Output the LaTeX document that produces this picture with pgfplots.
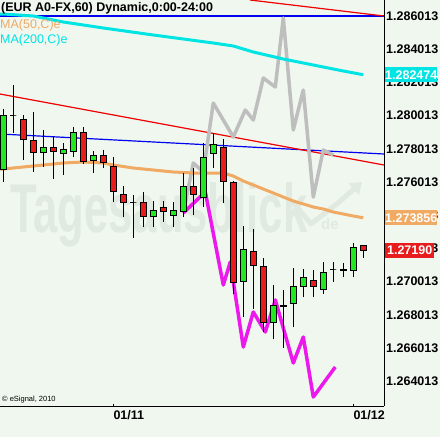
\documentclass[border=0pt]{standalone}
\usepackage{fontspec}
\setmainfont{Liberation Sans}
\usepackage{graphicx}
\usepackage{pgfplots}
\pgfplotsset{compat=1.18}
\usepackage{pgfplotstable}
\usetikzlibrary{arrows.meta}
\pgfdeclarelayer{background}
\pgfsetlayers{background,main}
\definecolor{bg}{RGB}{239,247,239}
\definecolor{wm}{RGB}{224,234,224}
\definecolor{cgreen}{RGB}{34,232,34}
\definecolor{cred}{RGB}{232,28,28}
\definecolor{ccyan}{RGB}{0,228,228}
\definecolor{corange}{RGB}{240,170,100}
\definecolor{cgray}{RGB}{190,190,190}
\definecolor{cmag}{RGB}{236,24,236}
\definecolor{cblue}{RGB}{0,0,240}
\definecolor{clred}{RGB}{240,0,0}
\newcommand\lab{\fontsize{12.5pt}{15pt}\selectfont}

\pgfplotstableread{
i o h l c
0 1.276796 1.280411 1.276013 1.280049
1 1.279989 1.281856 1.278965 1.279989
2 1.279748 1.280049 1.277338 1.278603
3 1.278543 1.280230 1.276615 1.277820
4 1.277820 1.279146 1.276917 1.278121
5 1.278121 1.278724 1.276194 1.277880
6 1.277760 1.278362 1.276435 1.277941
7 1.277880 1.279326 1.277519 1.279025
8 1.279025 1.279326 1.277097 1.277278
9 1.277338 1.277880 1.276555 1.277639
10 1.277639 1.277941 1.276856 1.277158
11 1.276917 1.277519 1.274808 1.275411
12 1.275230 1.275772 1.273905 1.274748
13 1.274808 1.275230 1.272639 1.274808
14 1.274748 1.275411 1.273302 1.273905
15 1.273905 1.274868 1.273302 1.274326
16 1.274447 1.274868 1.273603 1.274266
17 1.274025 1.274808 1.273302 1.274326
18 1.274206 1.276555 1.273905 1.275772
19 1.275712 1.276856 1.274025 1.275290
20 1.275109 1.278362 1.274507 1.277519
21 1.277700 1.278965 1.276856 1.278242
22 1.278121 1.278603 1.274748 1.276073
23 1.275953 1.276073 1.269266 1.269929
24 1.269989 1.273362 1.267880 1.271917
25 1.271856 1.273182 1.268362 1.270953
26 1.270893 1.271435 1.266977 1.267579
27 1.267579 1.269808 1.266555 1.268603
28 1.268483 1.269507 1.266013 1.268603
29 1.268664 1.270832 1.267278 1.269688
30 1.269688 1.270772 1.269085 1.270290
31 1.270109 1.270712 1.269085 1.269688
32 1.269567 1.271194 1.269266 1.270591
33 1.270712 1.271194 1.269989 1.270712
34 1.270652 1.271133 1.270290 1.270772
35 1.270652 1.272338 1.270290 1.272097
36 1.272158 1.272218 1.271435 1.271900
}\candles

\begin{document}
\begin{tikzpicture}[x=1pt,y=1pt]
\begin{axis}[
  scale only axis, width=384pt, height=406pt,
  xmin=-0.33, xmax=38.07, ymin=1.262519, ymax=1.286977,
  axis x line*=bottom, axis y line*=right,
  axis line style={black, line width=1pt},
  xtick={11,35}, xticklabels={01/11,01/12},
  ytick={1.264013,1.266013,1.268013,1.270013,1.272013,1.274013,1.276013,1.278013,1.280013,1.282013,1.284013,1.286013},
  yticklabels={1.264013,1.266013,1.268013,1.270013,1.272013,1.274013,1.276013,1.278013,1.280013,1.282013,1.284013,1.286013},
  tick align=inside, major tick length=2pt,
  xtick style={black, line width=0.8pt},
  ytick style={draw=none},
  xticklabel style={anchor=north west, inner sep=0pt, font=\lab\bfseries},
  xticklabel shift=4pt,
  yticklabel style={anchor=west, inner sep=0pt, font=\lab\bfseries},
  yticklabel shift=2pt,
]
% trend lines
\addplot[cblue, line width=1.2pt] coordinates {(-0.33,1.286013) (38.07,1.286013)};
\addplot[cblue, line width=1.2pt] coordinates {(-0.33,1.278905) (38.07,1.277700)};
\addplot[clred, line width=1.2pt] coordinates {(-0.33,1.281314) (38.07,1.277037)};
\addplot[clred, line width=1.2pt] coordinates {(24.67,1.286977) (38.07,1.286013)};
% gray projection
\addplot[cgray, line width=3.5pt, line join=round] coordinates {
(18,1.274146) (19,1.277158) (20,1.276615) (21,1.280772) (23,1.278724) (24.2,1.280350) (25,1.279748) (26,1.282278) (27.2,1.281736) (28,1.285893) (29,1.279146) (30,1.281555) (31,1.275109) (32,1.277941) (33,1.277639)};
% magenta projection
\addplot[cmag, line width=3.5pt, line join=round] coordinates {
(18,1.274146) (20.2,1.275411) (22,1.269808) (22.7,1.271194) (24,1.266073) (25,1.268182) (26.2,1.266977) (27.2,1.268905) (29,1.265109) (30,1.266676) (31,1.263061) (33.2,1.264868)};
% MA 200
\addplot[ccyan, line width=3pt] coordinates {
(-0.33,1.286133) (0,1.286133) (3,1.286013) (6,1.285652) (10,1.285290) (15,1.284868) (18,1.284627) (21,1.284386) (23,1.284206) (25,1.283844) (28,1.283423) (31,1.283061) (34,1.282700) (36,1.282474)};
% MA 50
\addplot[corange, line width=3pt] coordinates {
(-0.33,1.276796) (0,1.276796) (3,1.276977) (6,1.277158) (8,1.277218) (10,1.277158) (11,1.277037) (13,1.276856) (15,1.276736) (17,1.276615) (19,1.276555) (22,1.276555) (23,1.276374) (24,1.276073) (25,1.275832) (26,1.275591) (27,1.275350) (28,1.275109) (29,1.274868) (30,1.274688) (31,1.274507) (32,1.274386) (33,1.274206) (34,1.274085) (35,1.273965) (36,1.273856)};
% candles
\pgfplotsinvokeforeach{0,...,36}{%
  \pgfplotstablegetelem{#1}{o}\of\candles \let\cO\pgfplotsretval
  \pgfplotstablegetelem{#1}{h}\of\candles \let\cH\pgfplotsretval
  \pgfplotstablegetelem{#1}{l}\of\candles \let\cL\pgfplotsretval
  \pgfplotstablegetelem{#1}{c}\of\candles \let\cC\pgfplotsretval
  \pgfmathsetmacro\xa{#1-0.3}\pgfmathsetmacro\xb{#1+0.3}%
  \ifdim\cO pt<\cC pt
    \let\bL\cO \let\bH\cC \def\bC{cgreen}%
  \else
    \let\bL\cC \let\bH\cO \def\bC{cred}%
  \fi
  \edef\doplot{\noexpand\addplot[black, line width=1pt] coordinates {(#1,\cL) (#1,\cH)};%
    \noexpand\addplot[draw=black, fill=\bC, line width=1pt, line join=miter] coordinates {(\xa,\bL) (\xb,\bL) (\xb,\bH) (\xa,\bH) (\xa,\bL)};}%
  \doplot
}
\coordinate (o) at (rel axis cs:0,0);
\coordinate (labC) at (axis cs:38.07,1.282474);
\coordinate (labO) at (axis cs:38.07,1.273856);
\coordinate (labR) at (axis cs:38.07,1.271900);
\end{axis}
\begin{pgfonlayer}{background}
\fill[bg] ([shift={(0,-31)}]o) rectangle ([shift={(440,406)}]o);
% watermark
\node[anchor=base west, inner sep=0pt, text=wm] at ([shift={(10,173)}]o) {\resizebox{297pt}{50pt}{\bfseries Tagesausblick}};
\node[anchor=base west, inner sep=0pt, text=wm, font=\bfseries\fontsize{15pt}{15pt}\selectfont] at ([shift={(321,176)}]o) {de};
\draw[wm, line width=5pt, line join=round, -{Triangle[length=11pt,width=15pt]}] ([shift={(292,205)}]o) -- ([shift={(311,182)}]o) -- ([shift={(338,203)}]o) -- ([shift={(362,224)}]o);
\end{pgfonlayer}
% value boxes
\node[anchor=west, fill=ccyan, text=white, inner sep=0pt, minimum height=15pt, minimum width=52pt, font=\lab\bfseries] at ([xshift=1pt]labC) {1.282474};
\node[anchor=west, fill=corange, text=white, inner sep=0pt, minimum height=15pt, minimum width=52pt, font=\lab\bfseries] at ([xshift=1pt]labO) {1.273856};
\node[anchor=west, fill=cred, text=white, inner sep=0pt, minimum height=15pt, minimum width=49pt, font=\lab\bfseries] at ([xshift=1pt]labR) {1.27190};
% titles
\node[anchor=base west, inner sep=0pt, font=\lab\bfseries] at ([shift={(1,394.3)}]o) {(EUR A0-FX,60) Dynamic,0:00-24:00};
\node[anchor=base west, inner sep=0pt, font=\lab, text=corange] at ([shift={(0,377.7)}]o) {MA(50,C)e};
\node[anchor=base west, inner sep=0pt, font=\lab, text=ccyan] at ([shift={(0,362)}]o) {MA(200,C)e};
\node[anchor=base west, inner sep=0pt, font=\fontsize{7.5pt}{9pt}\selectfont] at ([shift={(2,4.3)}]o) {© eSignal, 2010};
\pgfresetboundingbox
\path[use as bounding box] ([shift={(0,-31)}]o) rectangle ([shift={(440,406)}]o);
\end{tikzpicture}
\end{document}
